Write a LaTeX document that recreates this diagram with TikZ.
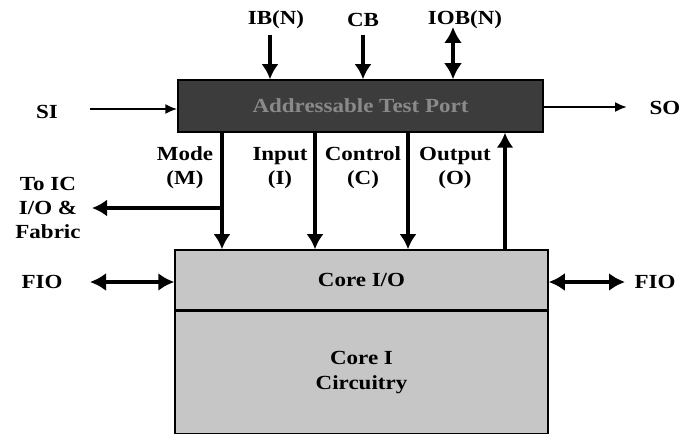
\documentclass[tikz,border=0pt]{standalone}
\usepackage{fontspec}
\setmainfont{Liberation Serif}[FakeStretch=1.15]
\usetikzlibrary{arrows.meta}
\definecolor{portfill}{HTML}{3C3C3C}
\definecolor{porttext}{HTML}{8A8A8A}
\definecolor{corefill}{HTML}{C6C6C6}
\tikzset{
  lbl/.style={font=\fontsize{20}{24}\selectfont\bfseries, align=center, inner sep=0pt},
  portbox/.style={draw=black, line width=1.5pt, fill=portfill, minimum width=365pt, minimum height=52pt, inner sep=0pt, text=porttext, font=\fontsize{20}{24}\selectfont\bfseries},
  corebox/.style={draw=black, line width=1.5pt, fill=corefill, minimum width=373pt, inner sep=0pt, align=center, font=\fontsize{20}{25}\selectfont\bfseries},
  bigarrow/.style={line width=3.5pt, -{Latex[length=15pt,width=17pt]}},
  bigdbl/.style={line width=3.5pt, {Latex[length=16pt,width=18pt]}-{Latex[length=16pt,width=18pt]}},
  thinarrow/.style={line width=2pt, -{Latex[length=12pt,width=10pt]}},
  bigline/.style={line width=3.5pt}
}
\begin{document}
\begin{tikzpicture}[x=1pt,y=-1pt]
\useasboundingbox (0,0) rectangle (688,435);
% boxes
\node[portbox] (atp) at (360.5,106) {Addressable Test Port};
\node[corebox, minimum height=60pt] (cio) at (361.5,280) {Core I/O};
\node[corebox, minimum height=122pt, anchor=north] (core) at (cio.south) {Core I\\Circuitry};
% top labels
\node[lbl] (ib) at (276,20) {IB(N)};
\node[lbl] (cb) at (363,20) {CB};
\node[lbl] (iob) at (465,20) {IOB(N)};
\coordinate (ibS) at (270,35);
\coordinate (cbS) at (363,35);
\coordinate (iobS) at (453,27);
\draw[bigarrow] (ibS) -- (ibS |- atp.north);
\draw[bigarrow] (cbS) -- (cbS |- atp.north);
\draw[bigdbl] (iobS) -- (iobS |- atp.north);
% SI / SO
\node[lbl] (si) at (47,112) {SI};
\node[lbl] (so) at (665,108) {SO};
\coordinate (siA) at (90,109);
\coordinate (soB) at (627,107);
\draw[thinarrow] (siA) -- (siA -| atp.west);
\draw[thinarrow] (soB -| atp.east) -- (soB);
% middle labels
\node[lbl] (model) at (185,168) {Mode\\(M)};
\node[lbl] (inputl) at (280,168) {Input\\(I)};
\node[lbl] (controll) at (363,168) {Control\\(C)};
\node[lbl] (outputl) at (455,168) {Output\\(O)};
\coordinate (mX) at (222,0);
\coordinate (iX) at (315,0);
\coordinate (cX) at (408,0);
\coordinate (oX) at (505,0);
\draw[bigarrow] (atp.south -| mX) -- (cio.north -| mX);
\draw[bigarrow] (atp.south -| iX) -- (cio.north -| iX);
\draw[bigarrow] (atp.south -| cX) -- (cio.north -| cX);
\draw[bigarrow] (cio.north -| oX) -- (atp.south -| oX);
% To IC branch
\node[lbl] (toic) at (48,208) {To IC\\I/O \&\\Fabric};
\coordinate (brJ) at (222,208);
\coordinate (brE) at (92,208);
\draw[bigarrow] (brJ) -- (brE);
% FIO
\node[lbl] (fiol) at (42,282) {FIO};
\node[lbl] (fior) at (655,282) {FIO};
\coordinate (fl) at (90,282);
\coordinate (fr) at (625,282);
\draw[bigdbl] (fl) -- (fl -| cio.west);
\draw[bigdbl] (fr -| cio.east) -- (fr);
\end{tikzpicture}
\end{document}
